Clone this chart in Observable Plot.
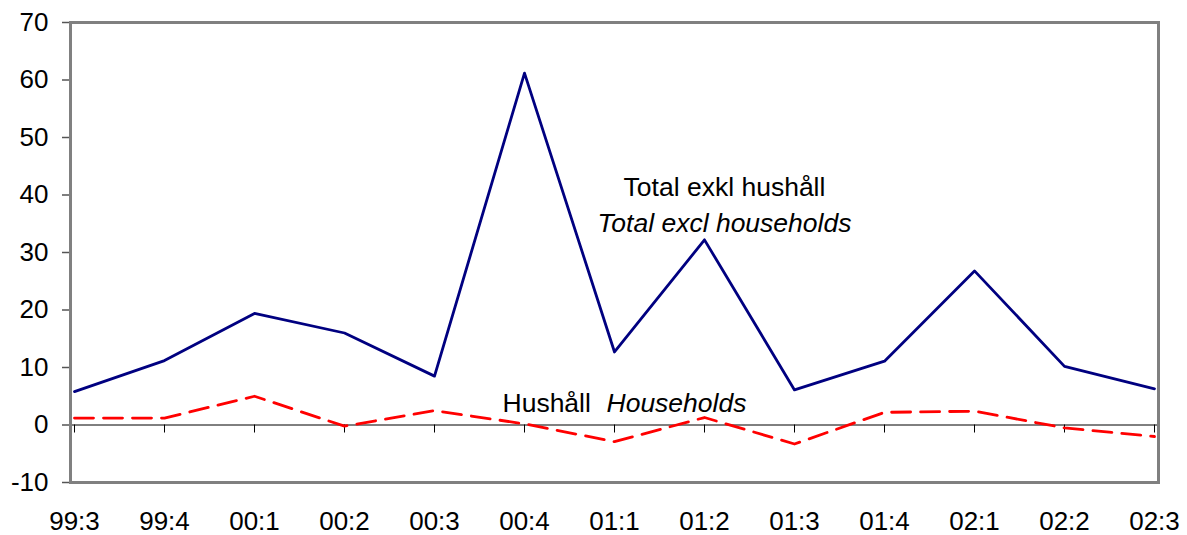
<!DOCTYPE html>
<html>
<head>
<meta charset="utf-8">
<script src="https://cdn.jsdelivr.net/npm/d3@7"></script>
<script src="https://cdn.jsdelivr.net/npm/@observablehq/plot@0.6"></script>
<style>
  html, body { margin: 0; padding: 0; background: #fff; }
  svg { font-family: "Liberation Sans", Arial, Helvetica, sans-serif; }
</style>
</head>
<body>
<div id="chart"></div>
<script>
const quarters = ["99:3","99:4","00:1","00:2","00:3","00:4","01:1","01:2","01:3","01:4","02:1","02:2","02:3"];
const totalExclHouseholds = [5.8, 11.2, 19.4, 16.0, 8.5, 61.2, 12.7, 32.2, 6.1, 11.1, 26.8, 10.2, 6.3];
const households = [1.2, 1.2, 5.0, -0.2, 2.5, 0.2, -2.9, 1.3, -3.3, 2.2, 2.4, -0.5, -2.0];
const yTicks = [-10, 0, 10, 20, 30, 40, 50, 60, 70];

const labels = [
  {x: "01:2", y: 39.8, text: "Total exkl hushåll", italic: false, anchor: "middle"},
  {x: "01:2", y: 33.6, text: "Total excl households", italic: true, anchor: "middle"},
  {x: "00:4", y: 2.3, text: "Hushåll", italic: false, anchor: "start"},
  {x: "00:4", y: 2.3, text: "Households", italic: true, anchor: "start"}
];

const total = quarters.map((q, i) => ({q, v: totalExclHouseholds[i]}));
const hh = quarters.map((q, i) => ({q, v: households[i]}));

const chart = Plot.plot({
  width: 1187,
  height: 535,
  marginLeft: 70,
  marginRight: 29,
  marginTop: 22,
  marginBottom: 53,
  style: {fontSize: "26px", fontFamily: "'Liberation Sans', Arial, Helvetica, sans-serif", color: "#000", background: "#fff"},
  x: {type: "point", domain: quarters, padding: 0},
  y: {domain: [-10, 70]},
  marks: [
    Plot.axisY({ticks: yTicks, tickFormat: d => String(d), tickSize: 8, tickPadding: 14, stroke: "#555", strokeWidth: 1.5, label: null, fontSize: 26, fill: "#000"}),
    Plot.axisX({tickSize: 0, tickPadding: 29, label: null, fontSize: 26, fill: "#000"}),
    Plot.ruleY([0], {stroke: "#000", strokeWidth: 1}),
    Plot.ruleX(quarters, {x: d => d, y1: 0, y2: 0, insetBottom: -8, stroke: "#000", strokeWidth: 1}),
    Plot.frame({stroke: "#808080", strokeWidth: 3}),
    Plot.line(total, {x: "q", y: "v", stroke: "#000080", strokeWidth: 2.8}),
    Plot.line(hh, {x: "q", y: "v", stroke: "#ff0000", strokeWidth: 2.8, strokeDasharray: "19,10"}),
    Plot.text(labels.filter(d => !d.italic && d.anchor === "middle"), {x: "x", y: "y", text: "text", textAnchor: "middle", lineAnchor: "bottom", dx: 20, fontSize: 26.5, fill: "#000"}),
    Plot.text(labels.filter(d => d.italic && d.anchor === "middle"), {x: "x", y: "y", text: "text", textAnchor: "middle", lineAnchor: "bottom", dx: 20, fontSize: 26.5, fontStyle: "italic", fill: "#000"}),
    Plot.text(labels.filter(d => !d.italic && d.anchor === "start"), {x: "x", y: "y", text: "text", textAnchor: "start", lineAnchor: "bottom", dx: -22, fontSize: 26.5, fill: "#000"}),
    Plot.text(labels.filter(d => d.italic && d.anchor === "start"), {x: "x", y: "y", text: "text", textAnchor: "start", lineAnchor: "bottom", dx: 82, fontSize: 26.5, fontStyle: "italic", fill: "#000"})
  ]
});
document.getElementById("chart").appendChild(chart);
</script>
</body>
</html>
